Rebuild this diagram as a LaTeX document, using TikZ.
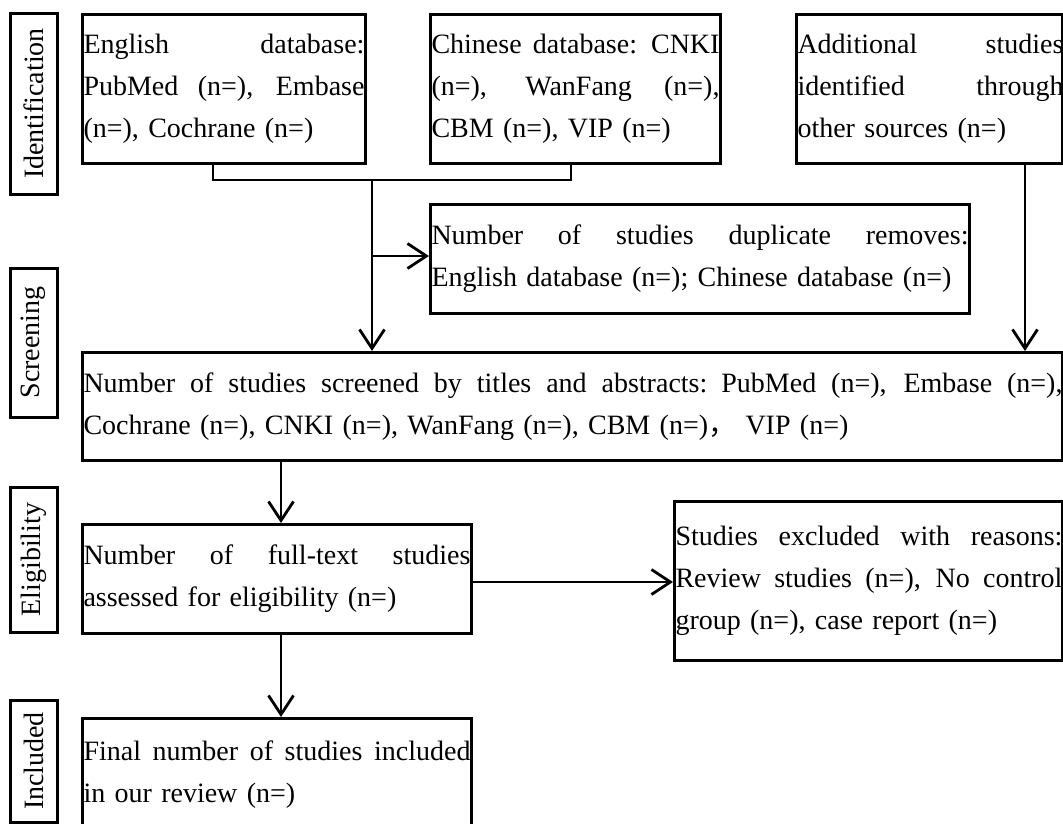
\documentclass[tikz,border=0pt]{standalone}
\usepackage{fontspec}
\setmainfont{Liberation Serif}
\newfontfamily\cjk{Noto Sans CJK SC}
\usetikzlibrary{arrows.meta,calc}
\newcommand{\fs}{\fontsize{28}{42}\selectfont}
\newcommand{\jline}[2]{\leavevmode\hbox to #1{\spaceskip=0.25em plus 1fil\relax #2}}
\newcommand{\nline}[1]{\leavevmode\hbox{#1}}
\tikzset{
  box/.style={draw, line width=3pt, inner xsep=1pt, inner ysep=0pt, align=left, anchor=north west, font=\fs},
  lab/.style={draw, line width=3pt, rotate=90, inner sep=0pt, minimum height=47pt, font=\fs},
  ln/.style={line width=2.8pt},
  arr/.style={line width=2.8pt, -{Straight Barb[length=19pt,width=25pt]}}
}
\begin{document}
\begin{tikzpicture}[x=1pt,y=-1pt]
\useasboundingbox (0,0) rectangle (1063,823);
\clip (0,0) rectangle (1063,823);
\fill[white] (0,0) rectangle (1063,823);
% side labels
\node[lab, minimum width=181pt] (lid) at (33.5,103.5) {Identification};
\node[lab, minimum width=149pt] (lsc) at (33.5,342.5) {Screening};
\node[lab, minimum width=145pt] (lel) at (33.5,559.5) {Eligibility};
\node[lab, minimum width=122pt] (lin) at (33.5,761) {Included};
% boxes
\node[box, minimum width=283pt, minimum height=148.5pt, text width=281pt] (eng) at (81,13)
  {\jline{281pt}{English database:}\\ \jline{281pt}{PubMed (n=), Embase}\\ \nline{(n=), Cochrane (n=)}};
\node[box, minimum width=290pt, minimum height=148.5pt, text width=288pt] (chn) at (429,13)
  {\jline{288pt}{Chinese database: CNKI}\\ \jline{288pt}{(n=), WanFang (n=),}\\ \nline{CBM (n=), VIP (n=)}};
\node[box, minimum width=266pt, minimum height=148.5pt, text width=264pt] (add) at (795,13)
  {\jline{266pt}{Additional studies}\\ \jline{266pt}{identified through}\\ \nline{other sources (n=)}};
\node[box, minimum width=539pt, minimum height=109pt, text width=537pt] (dup) at (429,203)
  {\jline{537pt}{Number of studies duplicate removes:}\\ \nline{English database (n=); Chinese database (n=)}};
\node[box, minimum width=980pt, minimum height=108pt, text width=978pt] (scr) at (81,351)
  {\jline{979pt}{Number of studies screened by titles and abstracts: PubMed (n=), Embase (n=),}\\ \nline{Cochrane (n=), CNKI (n=), WanFang (n=), CBM (n=){\cjk ，} VIP (n=)}};
\node[box, minimum width=389pt, minimum height=109pt, text width=387pt] (elig) at (81,523)
  {\jline{387pt}{Number of full-text studies}\\ \nline{assessed for eligibility (n=)}};
\node[box, minimum width=388pt, minimum height=159pt, text width=386pt] (exc) at (673,500)
  {\jline{387pt}{Studies excluded with reasons:}\\ \jline{387pt}{Review studies (n=), No control}\\ \nline{group (n=), case report (n=)}};
\node[box, minimum width=389pt, minimum height=113pt, text width=387pt] (inc) at (81,717)
  {\jline{387pt}{Final number of studies included}\\ \nline{in our review (n=)}};
% connectors
\coordinate (jL) at (213,180);
\coordinate (jR) at (571,180);
\coordinate (jM) at (372,180);
\coordinate (br) at (372,256);
\coordinate (ad) at (1025,0);
\coordinate (el) at (281,0);
\coordinate (ex) at (0,582);
\draw[ln] (eng.south -| jL) -- (jL) -- (jR) -- (chn.south -| jR);
\draw[arr] (jM) -- (scr.north -| jM);
\draw[arr] (br) -- (dup.west |- br);
\draw[arr] (add.south -| ad) -- (scr.north -| ad);
\draw[arr] (scr.south -| el) -- (elig.north -| el);
\draw[arr] (elig.south -| el) -- (inc.north -| el);
\draw[arr] (elig.east |- ex) -- (exc.west |- ex);
\end{tikzpicture}
\end{document}
